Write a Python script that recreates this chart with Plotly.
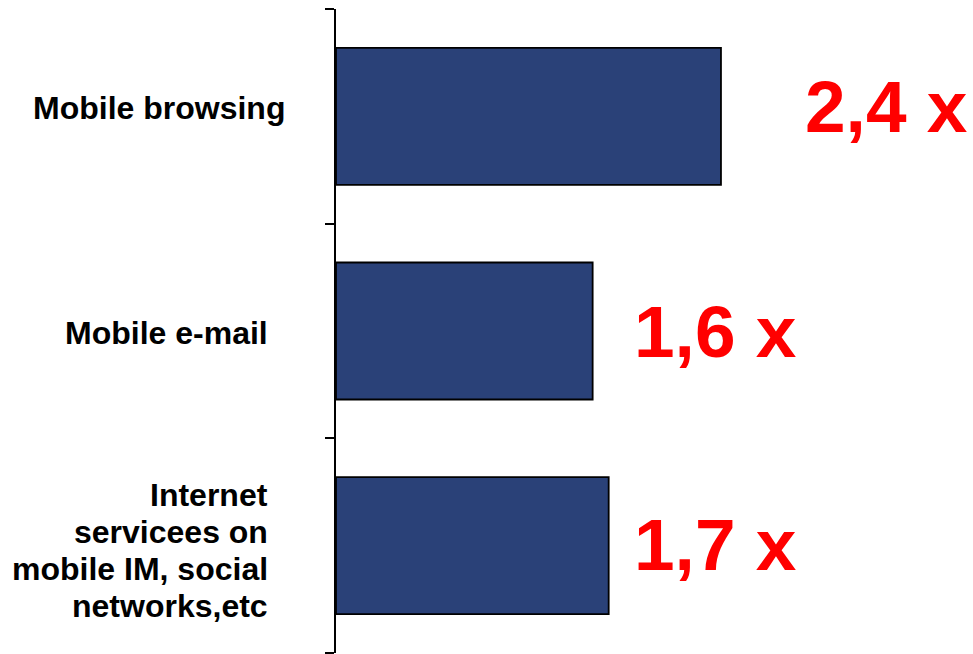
import plotly.graph_objects as go

# Growth multiples for mobile internet usage categories
categories = ["Mobile browsing", "Mobile e-mail", "Internet servicees on mobile IM, social networks,etc"]
category_lines = [
    ["Mobile browsing"],
    ["Mobile e-mail"],
    ["Internet", "servicees on", "mobile IM, social", "networks,etc"],
]
growth = [2.4, 1.6, 1.7]
growth_labels = ["2,4 x", "1,6 x", "1,7 x"]

W, H = 973, 654
ML, MR, MT, MB = 336, 0, 9, 1
px_per_unit = 160.4
x_max = (W - ML - MR) / px_per_unit

bar_color = "#2A4178"
label_font = "Liberation Sans, Arial, sans-serif"
line_step = 37  # px between wrapped category label lines

fig = go.Figure(
    go.Bar(
        y=categories,
        x=growth,
        orientation="h",
        marker=dict(color=bar_color, line=dict(color="black", width=1.8)),
        hoverinfo="skip",
    )
)

# Big red multiplier labels to the right of each bar
label_x = [2.91, 1.846, 1.846]
label_yshift = [10, 0, 1]
for cat, txt, lx, ys in zip(categories, growth_labels, label_x, label_yshift):
    fig.add_annotation(
        x=lx, y=cat, xref="x", yref="y",
        text=f"<b>{txt}</b>", showarrow=False,
        xanchor="left", yanchor="middle", yshift=ys,
        font=dict(family=label_font, size=73, color="#FF0000"),
    )

# Category labels on the left of the axis, one annotation per text line
cat_xshift = [-49, -66, -66]
cat_yshift = [8, -2, -5]
for cat, lines, xs, ys in zip(categories, category_lines, cat_xshift, cat_yshift):
    n = len(lines)
    for i, line in enumerate(lines):
        fig.add_annotation(
            x=0, y=cat, xref="paper", yref="y",
            text=f"<b>{line}</b>", showarrow=False,
            xanchor="right", yanchor="middle", align="right",
            xshift=xs, yshift=ys - (i - (n - 1) / 2) * line_step,
            font=dict(family=label_font, size=32, color="black"),
        )

fig.update_layout(
    width=W, height=H,
    margin=dict(l=ML, r=MR, t=MT, b=MB),
    paper_bgcolor="white", plot_bgcolor="white",
    bargap=0.362,
    showlegend=False,
    xaxis=dict(range=[0, x_max], visible=False, fixedrange=True),
    yaxis=dict(
        type="category",
        categoryorder="array", categoryarray=categories[::-1],
        showticklabels=False,
        showline=True, linecolor="black", linewidth=2,
        ticks="outside", tickson="boundaries", ticklen=9, tickwidth=2, tickcolor="black",
        showgrid=False, zeroline=False, fixedrange=True,
    ),
)

fig.write_html("out.html", config={"displayModeBar": False})
